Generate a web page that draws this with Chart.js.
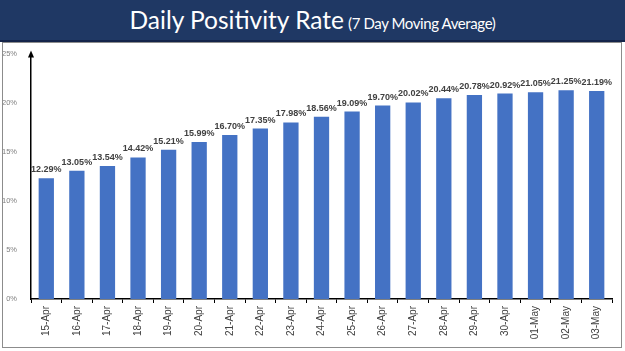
<!DOCTYPE html>
<html>
<head>
<meta charset="utf-8">
<script src="https://cdn.jsdelivr.net/npm/chart.js@4"></script>
<style>
  html, body { margin: 0; padding: 0; width: 625px; height: 351px; background: #ffffff; overflow: hidden; }
  #banner { position: absolute; left: 0; top: 0; width: 625px; height: 40px; background: #1f3864;
            border-bottom: 2px solid #14244a; color: #fff; font-family: 'Lato', 'Open Sans', sans-serif;
            text-align: center; line-height: 40px; white-space: nowrap; }
  #banner .big { font-size: 24.5px; }
  #banner .small { font-size: 15px; letter-spacing: -0.4px; }
  #panel { position: absolute; left: 2px; top: 42px; width: 618px; height: 304px; border: 1px solid #8c8c8c; background: #fff; }
  canvas { display: block; }
</style>
</head>
<body>
<div id="banner"><span class="big">Daily Positivity Rate</span> <span class="small">(7 Day Moving Average)</span></div>
<div id="panel"><canvas id="c" width="618" height="304"></canvas></div>
<script>
// categories and values
const days = ['15-Apr', '16-Apr', '17-Apr', '18-Apr', '19-Apr', '20-Apr', '21-Apr', '22-Apr', '23-Apr', '24-Apr',
              '25-Apr', '26-Apr', '27-Apr', '28-Apr', '29-Apr', '30-Apr', '01-May', '02-May', '03-May'];
const positivity = [12.29, 13.05, 13.54, 14.42, 15.21, 15.99, 16.70, 17.35, 17.98, 18.56,
                    19.09, 19.70, 20.02, 20.44, 20.78, 20.92, 21.05, 21.25, 21.19];
const yTicks = [0, 5, 10, 15, 20, 25];

// bold value labels above every bar
const barLabels = {
    id: 'barLabels',
    afterDatasetsDraw(chart) {
        const ctx = chart.ctx;
        const meta = chart.getDatasetMeta(0);
        ctx.save();
        ctx.font = 'bold 9px "Liberation Sans", Arial, sans-serif';
        ctx.fillStyle = '#404040';
        ctx.textAlign = 'center';
        ctx.textBaseline = 'bottom';
        meta.data.forEach((bar, i) => {
            ctx.fillText(positivity[i].toFixed(2) + '%', bar.x, bar.y - 4);
        });
        ctx.restore();
    }
};

// arrow head on top of the y axis
const axisArrow = {
    id: 'axisArrow',
    afterDraw(chart) {
        const ctx = chart.ctx;
        const x = chart.chartArea.left;
        const y = chart.chartArea.top;
        ctx.save();
        ctx.fillStyle = '#000';
        ctx.beginPath();
        ctx.moveTo(x, y - 3);
        ctx.lineTo(x - 3, y + 4);
        ctx.lineTo(x + 3, y + 4);
        ctx.closePath();
        ctx.fill();
        ctx.restore();
    }
};

new Chart(document.getElementById('c'), {
    type: 'bar',
    data: {
        labels: days,
        datasets: [{
            data: positivity,
            backgroundColor: '#4472c4',
            categoryPercentage: 1,
            barPercentage: 0.5
        }]
    },
    options: {
        responsive: false,
        animation: false,
        layout: { padding: { top: 8, right: 9, left: 0, bottom: 0 } },
        plugins: { legend: { display: false }, tooltip: { enabled: false } },
        scales: {
            x: {
                afterFit(scale) { scale.height = 48; },
                border: { color: '#000', width: 1.5 },
                grid: { drawOnChartArea: false, drawTicks: true, tickLength: 4, offset: true, color: '#000' },
                ticks: {
                    maxRotation: 90, minRotation: 90, autoSkip: false, padding: 3,
                    color: '#404040', font: { family: '"Liberation Sans", Arial, sans-serif', size: 10 }
                }
            },
            y: {
                min: 0, max: 25,
                afterFit(scale) { scale.width = 28; },
                afterBuildTicks(scale) { scale.ticks = yTicks.map(v => ({ value: v })); },
                border: { color: '#000', width: 1.5 },
                grid: { display: false },
                ticks: {
                    padding: 6,
                    color: '#7f7f7f', font: { family: '"Liberation Sans", Arial, sans-serif', size: 7.5 },
                    callback: v => v + '%'
                }
            }
        }
    },
    plugins: [barLabels, axisArrow]
});
</script>
</body>
</html>
